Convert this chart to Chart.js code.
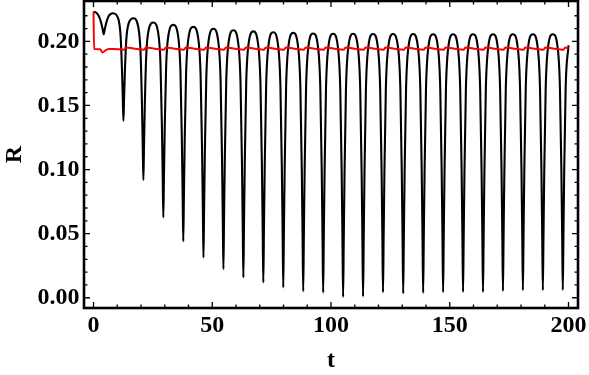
<!DOCTYPE html>
<html><head><meta charset="utf-8">
<script src="https://cdn.jsdelivr.net/npm/chart.js@4/dist/chart.umd.min.js"></script>
<style>html,body{margin:0;padding:0;background:#fff}</style>
</head><body>
<canvas id="c" width="589" height="375"></canvas>
<script>
// ---- data ----
const blackT = [
  0, 1.3, 2.3, 3.3, 3.9, 4.3, 4.7, 5.3, 6.3, 8.2,
  10.4, 11.4, 12.0, 12.35, 12.6, 12.85, 13.2, 13.8, 14.8, 16.8,
  18.8, 19.8, 20.4, 20.75, 21.0, 21.25, 21.6, 22.2, 23.2, 25.2,
  27.2, 28.2, 28.8, 29.15, 29.4, 29.65, 30.0, 30.6, 31.6, 33.6,
  35.6, 36.6, 37.2, 37.55, 37.8, 38.05, 38.4, 39.0, 40.0, 42.0,
  44.1, 45.1, 45.7, 46.05, 46.3, 46.55, 46.9, 47.5, 48.5, 50.5,
  52.5, 53.5, 54.1, 54.45, 54.7, 54.95, 55.3, 55.9, 56.9, 58.9,
  60.9, 61.9, 62.5, 62.85, 63.1, 63.35, 63.7, 64.3, 65.3, 67.3,
  69.3, 70.3, 70.9, 71.25, 71.5, 71.75, 72.1, 72.7, 73.7, 75.7,
  77.7, 78.7, 79.3, 79.65, 79.9, 80.15, 80.5, 81.1, 82.1, 84.1,
  86.1, 87.1, 87.7, 88.05, 88.3, 88.55, 88.9, 89.5, 90.5, 92.5,
  94.5, 95.5, 96.1, 96.45, 96.7, 96.95, 97.3, 97.9, 98.9, 100.9,
  102.9, 103.9, 104.5, 104.85, 105.1, 105.35, 105.7, 106.3, 107.3, 109.3,
  111.3, 112.3, 112.9, 113.25, 113.5, 113.75, 114.1, 114.7, 115.7, 117.7,
  119.7, 120.7, 121.3, 121.65, 121.9, 122.15, 122.5, 123.1, 124.1, 126.1,
  128.2, 129.2, 129.8, 130.15, 130.4, 130.65, 131.0, 131.6, 132.6, 134.6,
  136.6, 137.6, 138.2, 138.55, 138.8, 139.05, 139.4, 140.0, 141.0, 143.0,
  145.0, 146.0, 146.6, 146.95, 147.2, 147.45, 147.8, 148.4, 149.4, 151.4,
  153.4, 154.4, 155.0, 155.35, 155.6, 155.85, 156.2, 156.8, 157.8, 159.8,
  161.8, 162.8, 163.4, 163.75, 164.0, 164.25, 164.6, 165.2, 166.2, 168.2,
  170.2, 171.2, 171.8, 172.15, 172.4, 172.65, 173.0, 173.6, 174.6, 176.6,
  178.6, 179.6, 180.2, 180.55, 180.8, 181.05, 181.4, 182.0, 183.0, 185.0,
  187.0, 188.0, 188.6, 188.95, 189.2, 189.45, 189.8, 190.4, 191.4, 193.4,
  195.4, 196.4, 197.0, 197.35, 197.6, 197.85, 198.2, 198.8, 200.0
];
const blackR = [
  0.2232, 0.2222, 0.2195, 0.2140, 0.2090, 0.2055, 0.2090, 0.2140, 0.2195, 0.2220,
  0.2178, 0.2044, 0.1775, 0.1548, 0.1380, 0.1540, 0.1756, 0.2012, 0.2140, 0.2180,
  0.2117, 0.1915, 0.1511, 0.1170, 0.0918, 0.1164, 0.1496, 0.1889, 0.2086, 0.2147,
  0.2071, 0.1828, 0.1341, 0.0931, 0.0627, 0.0927, 0.1333, 0.1814, 0.2054, 0.2129,
  0.2045, 0.1774, 0.1234, 0.0778, 0.0440, 0.0775, 0.1226, 0.1762, 0.2029, 0.2113,
  0.2023, 0.1735, 0.1160, 0.0674, 0.0314, 0.0671, 0.1152, 0.1723, 0.2009, 0.2098,
  0.2004, 0.1704, 0.1104, 0.0598, 0.0223, 0.0596, 0.1099, 0.1696, 0.1994, 0.2087,
  0.1991, 0.1682, 0.1065, 0.0544, 0.0158, 0.0542, 0.1060, 0.1675, 0.1982, 0.2078,
  0.1980, 0.1667, 0.1040, 0.0511, 0.0119, 0.0509, 0.1036, 0.1661, 0.1973, 0.2071,
  0.1971, 0.1653, 0.1016, 0.0478, 0.0080, 0.0477, 0.1013, 0.1649, 0.1967, 0.2066,
  0.1965, 0.1643, 0.0998, 0.0453, 0.0050, 0.0452, 0.0996, 0.1639, 0.1961, 0.2062,
  0.1961, 0.1637, 0.0990, 0.0444, 0.0040, 0.0444, 0.0989, 0.1636, 0.1959, 0.2060,
  0.1957, 0.1629, 0.0971, 0.0417, 0.0006, 0.0417, 0.0971, 0.1628, 0.1956, 0.2059,
  0.1957, 0.1629, 0.0973, 0.0420, 0.0010, 0.0420, 0.0973, 0.1628, 0.1956, 0.2058,
  0.1957, 0.1635, 0.0990, 0.0446, 0.0043, 0.0446, 0.0990, 0.1634, 0.1956, 0.2057,
  0.1956, 0.1632, 0.0984, 0.0438, 0.0033, 0.0438, 0.0984, 0.1632, 0.1956, 0.2057,
  0.1956, 0.1633, 0.0987, 0.0442, 0.0038, 0.0442, 0.0987, 0.1633, 0.1956, 0.2056,
  0.1955, 0.1633, 0.0989, 0.0446, 0.0043, 0.0446, 0.0989, 0.1633, 0.1955, 0.2056,
  0.1955, 0.1634, 0.0990, 0.0447, 0.0045, 0.0447, 0.0990, 0.1634, 0.1955, 0.2056,
  0.1955, 0.1634, 0.0990, 0.0447, 0.0045, 0.0447, 0.0990, 0.1634, 0.1955, 0.2056,
  0.1956, 0.1635, 0.0994, 0.0454, 0.0053, 0.0454, 0.0994, 0.1635, 0.1956, 0.2056,
  0.1956, 0.1637, 0.0998, 0.0458, 0.0059, 0.0458, 0.0998, 0.1637, 0.1956, 0.2056,
  0.1956, 0.1637, 0.0998, 0.0458, 0.0059, 0.0458, 0.0998, 0.1637, 0.1956, 0.2056,
  0.1956, 0.1637, 0.0998, 0.0459, 0.0060, 0.0459, 0.0998, 0.1637, 0.1970
];
const redT = [
  0, 0.25, 2.8, 3.8, 5.0, 6.5, 8.4,
  12.9, 13.6, 16.8, 21.3, 22.0, 25.2, 29.7, 30.4, 33.6, 38.1, 38.8, 42.0,
  46.6, 47.3, 50.5, 55.0, 55.7, 58.9, 63.4, 64.1, 67.3, 71.8, 72.5, 75.7,
  80.2, 80.9, 84.1, 88.6, 89.3, 92.5, 97.0, 97.7, 100.9, 105.4, 106.1, 109.3,
  113.8, 114.5, 117.7, 122.2, 122.9, 126.1, 130.7, 131.4, 134.6, 139.1, 139.8, 143.0,
  147.5, 148.2, 151.4, 155.9, 156.6, 159.8, 164.3, 165.0, 168.2, 172.7, 173.4, 176.6,
  181.1, 181.8, 185.0, 189.5, 190.2, 193.4, 197.9, 198.6, 200.0
];
const redR = [
  0.2232, 0.1940, 0.1939, 0.1913, 0.1930, 0.1940, 0.1941,
  0.1935, 0.1952, 0.1945, 0.1935, 0.1952, 0.1945, 0.1935, 0.1952, 0.1945, 0.1935, 0.1952, 0.1945,
  0.1935, 0.1952, 0.1945, 0.1935, 0.1952, 0.1945, 0.1935, 0.1952, 0.1945, 0.1935, 0.1952, 0.1945,
  0.1935, 0.1952, 0.1945, 0.1935, 0.1952, 0.1945, 0.1935, 0.1952, 0.1945, 0.1935, 0.1952, 0.1945,
  0.1935, 0.1952, 0.1945, 0.1935, 0.1952, 0.1945, 0.1935, 0.1952, 0.1945, 0.1935, 0.1952, 0.1945,
  0.1935, 0.1952, 0.1945, 0.1935, 0.1952, 0.1945, 0.1935, 0.1952, 0.1945, 0.1935, 0.1952, 0.1945,
  0.1935, 0.1952, 0.1945, 0.1935, 0.1952, 0.1945, 0.1935, 0.1952, 0.1946
];
const xTickLabels = [0, 50, 100, 150, 200];
const xMinorTicks = [10, 20, 30, 40, 60, 70, 80, 90, 110, 120, 130, 140, 160, 170, 180, 190];
const yTickLabels = [0, 0.05, 0.10, 0.15, 0.20];
const yMinorTicks = [0.01, 0.02, 0.03, 0.04, 0.06, 0.07, 0.08, 0.09, 0.11, 0.12, 0.13, 0.14, 0.16, 0.17, 0.18, 0.19, 0.21, 0.22];
const xTitle = 't';
const yTitle = 'R';

// ---- drawing ----
const serif = 'Liberation Serif, "Times New Roman", serif';
const framePlugin = {
  id: 'frame',
  afterDatasetsDraw(chart) {
    const {ctx, chartArea: a, scales: {x, y}} = chart;
    ctx.save();
    ctx.strokeStyle = '#000';
    ctx.lineWidth = 1.3;
    ctx.beginPath();
    const xt = (vals, len) => vals.forEach(v => {
      const p = x.getPixelForValue(v);
      ctx.moveTo(p, a.bottom); ctx.lineTo(p, a.bottom - len);
      ctx.moveTo(p, a.top); ctx.lineTo(p, a.top + len);
    });
    const yt = (vals, len) => vals.forEach(v => {
      const p = y.getPixelForValue(v);
      ctx.moveTo(a.left, p); ctx.lineTo(a.left + len, p);
      ctx.moveTo(a.right, p); ctx.lineTo(a.right - len, p);
    });
    xt(xTickLabels, 6); xt(xMinorTicks, 3.5);
    yt(yTickLabels, 6); yt(yMinorTicks, 3.5);
    ctx.stroke();
    ctx.lineWidth = 2.6;
    ctx.strokeRect(a.left, a.top, a.right - a.left, a.bottom - a.top);
    ctx.restore();
  }
};

new Chart(document.getElementById('c'), {
  type: 'line',
  data: {
    datasets: [
      { data: redT.map((t, i) => ({x: t, y: redR[i]})), borderColor: '#ff0000', borderWidth: 2,
        pointRadius: 0, fill: false, cubicInterpolationMode: 'monotone' },
      { data: blackT.map((t, i) => ({x: t, y: blackR[i]})), borderColor: '#000000', borderWidth: 2.1,
        pointRadius: 0, fill: false, cubicInterpolationMode: 'monotone' }
    ]
  },
  options: {
    responsive: false, animation: false, devicePixelRatio: 1,
    layout: { padding: { top: 1, right: 11, left: 0, bottom: 0 } },
    plugins: { legend: { display: false }, tooltip: { enabled: false } },
    scales: {
      x: {
        type: 'linear', min: -4, max: 204,
        grid: { display: false, drawTicks: false }, border: { display: false },
        afterBuildTicks: s => { s.ticks = xTickLabels.map(v => ({ value: v })); },
        afterFit: s => { s.height = 67; s.paddingLeft = 0; s.paddingRight = 0; },
        ticks: { font: { family: serif, weight: 'bold', size: 24 }, color: '#000', padding: 3.5,
                 maxRotation: 0, autoSkip: false, callback: v => String(v) },
        title: { display: true, text: xTitle, color: '#000',
                 font: { family: serif, weight: 'bold', size: 24 }, padding: { top: 0, bottom: 0 } }
      },
      y: {
        type: 'linear', min: -0.008, max: 0.2315,
        grid: { display: false, drawTicks: false }, border: { display: false },
        afterBuildTicks: s => { s.ticks = yTickLabels.map(v => ({ value: v })); },
        afterFit: s => { s.width = 84; s.paddingTop = 0; s.paddingBottom = 0; },
        ticks: { font: { family: serif, weight: 'bold', size: 24 }, color: '#000', padding: 4.5,
                 autoSkip: false, callback: v => Number(v).toFixed(2) },
        title: { display: true, text: yTitle, color: '#000',
                 font: { family: serif, weight: 'bold', size: 24 }, padding: { top: 0.6, bottom: 0 } }
      }
    }
  },
  plugins: [framePlugin]
});
</script>
</body></html>
